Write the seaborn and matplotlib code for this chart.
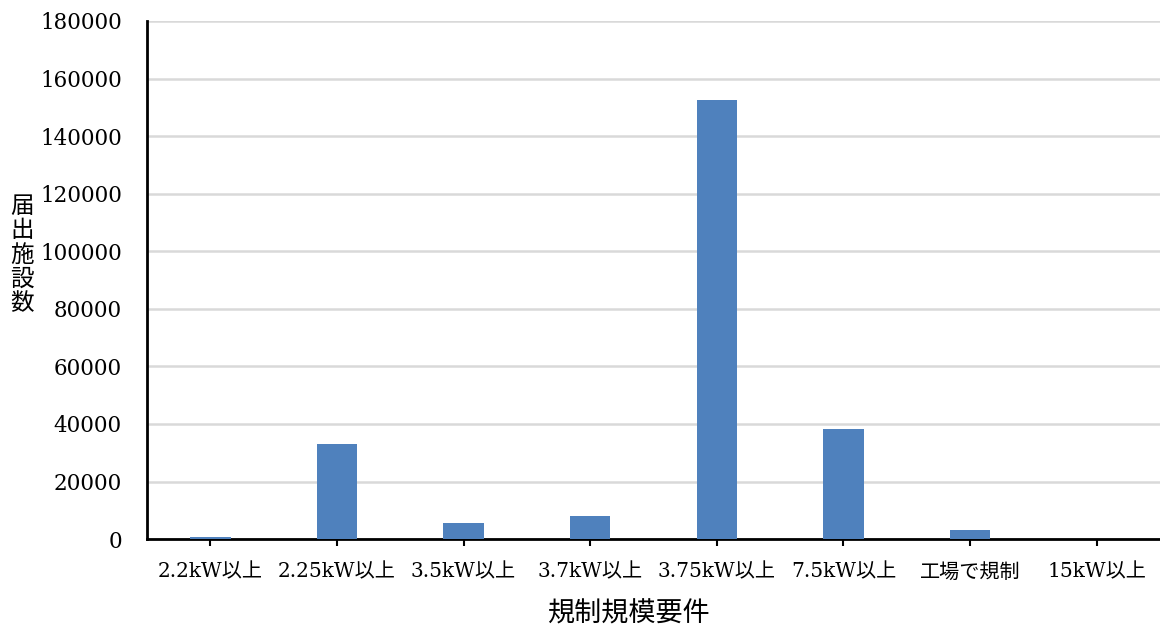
import matplotlib
matplotlib.use("Agg")
import matplotlib.pyplot as plt
import seaborn as sns
import pandas as pd

categories = ["2.2kW以上", "2.25kW以上", "3.5kW以上", "3.7kW以上",
              "3.75kW以上", "7.5kW以上", "工場で規制", "15kW以上"]
counts = [600, 32900, 5600, 8000, 152400, 38200, 3100, 100]
y_ticks = [0, 20000, 40000, 60000, 80000, 100000, 120000, 140000, 160000, 180000]

sns.set_theme(style="white")
plt.rcParams["font.family"] = ["DejaVu Serif", "Noto Sans CJK JP"]
plt.rcParams["text.color"] = "black"
plt.rcParams["xtick.color"] = "black"
plt.rcParams["ytick.color"] = "black"

df = pd.DataFrame({"要件": categories, "施設数": counts})

fig = plt.figure(figsize=(11.6, 6.32), dpi=100)
ax = fig.add_axes([0.1267, 0.147, 0.8733, 0.8198])

sns.barplot(data=df, x="要件", y="施設数", color="#4F81BD", saturation=1,
            width=0.32, linewidth=0, ax=ax, zorder=3)

ax.set_ylim(0, 180000)
ax.set_yticks(y_ticks)
ax.set_yticklabels([str(v) for v in y_ticks], fontsize=15.5)
ax.yaxis.grid(True, color="#d9d9d9", linewidth=1.8, zorder=0)
ax.set_axisbelow(True)

for side in ["top", "right"]:
    ax.spines[side].set_visible(False)
for side in ["left", "bottom"]:
    ax.spines[side].set_color("black")
    ax.spines[side].set_linewidth(2)

ax.tick_params(axis="x", bottom=True, length=5, width=1.5, color="black",
               direction="out", labelsize=14.5, pad=12)
ax.tick_params(axis="y", left=False, pad=12)

ax.set_xlabel("")
ax.set_ylabel("")
fig.text(628 / 1160, 1 - 614 / 632, "規制規模要件", fontsize=19.5, ha="center",
         va="center", family=["Noto Sans CJK JP"])
fig.text(22 / 1160, 1 - 255 / 632, "\n".join("届出施設数"), fontsize=17,
         ha="center", va="center", linespacing=1.08,
         family=["Noto Sans CJK JP"])

fig.savefig("out.png", dpi=100)
